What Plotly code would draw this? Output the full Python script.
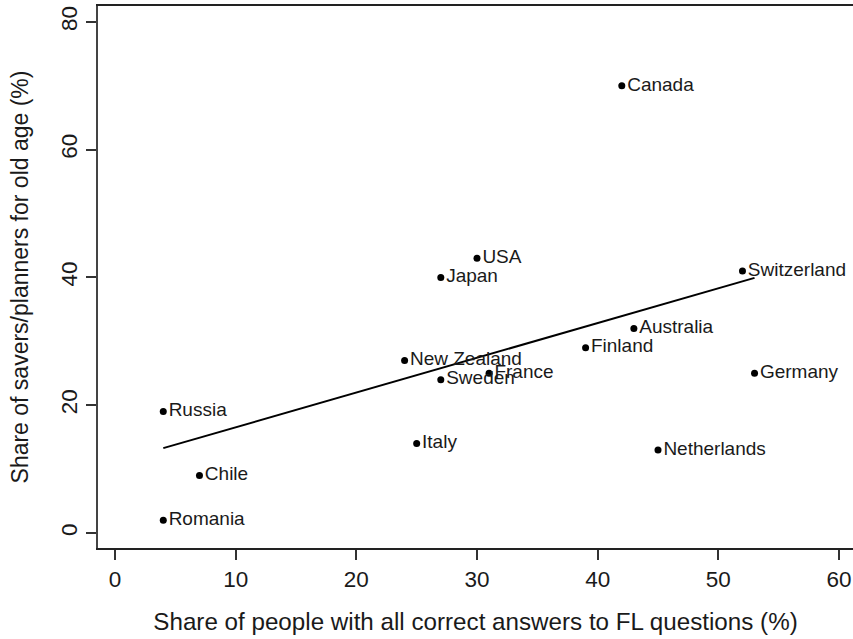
import numpy as np
import plotly.graph_objects as go

countries = ["Canada", "USA", "Japan", "Switzerland", "Australia", "Finland",
             "New Zealand", "France", "Sweden", "Germany", "Russia", "Italy",
             "Netherlands", "Chile", "Romania"]
fl_correct = [42, 30, 27, 52, 43, 39, 24, 31, 27, 53, 4, 25, 45, 7, 4]
savers = [70, 43, 40, 41, 32, 29, 27, 25, 24, 25, 19, 14, 13, 9, 2]
x_ticks = [0, 10, 20, 30, 40, 50, 60]
y_ticks = [0, 20, 40, 60, 80]

x = np.array(fl_correct, dtype=float)
y = np.array(savers, dtype=float)
slope, intercept = np.polyfit(x, y, 1)
xf = np.array([x.min(), x.max()])
yf = intercept + slope * xf

FONT = "Liberation Sans, Arial, sans-serif"

fig = go.Figure()
fig.add_trace(go.Scatter(
    x=xf, y=yf, mode="lines",
    line=dict(color="black", width=2),
    hoverinfo="skip", showlegend=False,
))
fig.add_trace(go.Scatter(
    x=fl_correct, y=savers, text=countries, mode="markers+text",
    textposition="middle right",
    marker=dict(color="black", size=7),
    textfont=dict(family=FONT, size=19, color="#1a1a1a"),
    showlegend=False, cliponaxis=False,
))

W, H = 853, 639
left, right, top, bottom = 98, 853, 6, 548

fig.update_layout(
    width=W, height=H,
    margin=dict(l=left, r=W - right, t=top, b=H - bottom, autoexpand=False),
    paper_bgcolor="white", plot_bgcolor="white",
    font=dict(family=FONT, color="#1a1a1a"),
    xaxis=dict(
        range=[-1.409, 61.16], tickvals=x_ticks, ticks="outside", ticklen=10,
        tickwidth=1.5, tickcolor="#333", showgrid=False, zeroline=False,
        showline=True, linecolor="#222", linewidth=2, mirror=True,
        tickfont=dict(size=22.5, family=FONT, color="#1a1a1a"),
        title=dict(text="Share of people with all correct answers to FL questions (%)",
                   font=dict(size=24.2, family=FONT, color="#1a1a1a"), standoff=22),
    ),
    yaxis=dict(
        range=[-2.35, 82.5], tickvals=y_ticks, ticks="outside", ticklen=10,
        tickwidth=1.5, tickcolor="#333", showgrid=False, zeroline=False,
        showline=True, linecolor="#444", linewidth=2, tickangle=-90,
        tickfont=dict(size=22.5, family=FONT, color="#1a1a1a"),
        title=dict(text="Share of savers/planners for old age (%)",
                   font=dict(size=23, family=FONT, color="#1a1a1a"), standoff=22),
    ),
)

fig.write_html("out.html", config={"displayModeBar": False},
               post_script="document.body.style.margin='0px';")
